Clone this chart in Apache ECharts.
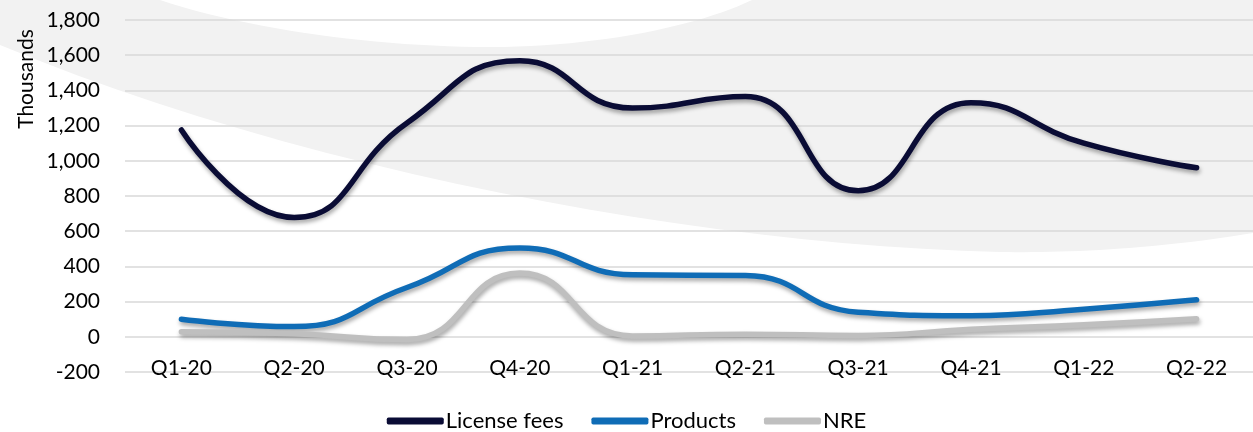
<!DOCTYPE html>
<html>
<head>
<meta charset="utf-8">
<script src="https://cdn.jsdelivr.net/npm/echarts@6/dist/echarts.min.js"></script>
<style>
  html, body { margin: 0; padding: 0; background: #fff; }
  #chart { width: 1253px; height: 432px; }
</style>
</head>
<body>
<div id="chart"></div>
<script>
// quarterly revenue by source, in thousands
const quarters = ['Q1-20', 'Q2-20', 'Q3-20', 'Q4-20', 'Q1-21', 'Q2-21', 'Q3-21', 'Q4-21', 'Q1-22', 'Q2-22']
const licenseFees = [1175, 678, 1215, 1568, 1300, 1365, 830, 1330, 1100, 960]
const products = [100, 58, 280, 505, 352, 348, 140, 120, 157, 210]
const nre = [28, 17, -15, 362, 5, 15, 8, 43, 68, 102]

const FONT = 'Lato, "Open Sans", sans-serif'

const chart = echarts.init(document.getElementById('chart'), null, { renderer: 'canvas' })

// sample cubic bezier segments into polygon points (background decoration only)
function bezierPoints(start, segs) {
  const pts = [start]
  let p0 = start
  segs.forEach(([p1, p2, p3]) => {
    for (let i = 1; i <= 24; i++) {
      const t = i / 24, u = 1 - t
      pts.push([
        u * u * u * p0[0] + 3 * u * u * t * p1[0] + 3 * u * t * t * p2[0] + t * t * t * p3[0],
        u * u * u * p0[1] + 3 * u * u * t * p1[1] + 3 * u * t * t * p2[1] + t * t * t * p3[1],
      ])
    }
    p0 = p3
  })
  return pts
}

const swooshPts = [[0, 0], [1253, 0]].concat(bezierPoints([1253, 233], [
  [[1150, 250], [1060, 253], [1000, 252]],
  [[700, 245], [300, 170], [0, 45]],
]))
const notchPts = bezierPoints([160, 0], [
  [[250, 30], [380, 47], [490, 47]],
  [[600, 47], [700, 25], [752, 0]],
])

function lineSeries(name, data, color) {
  return {
    name, type: 'line', data,
    smooth: 0.5, symbol: 'none',
    lineStyle: {
      width: 5.5, color, cap: 'round', join: 'round',
      shadowColor: 'rgba(0,0,0,0.35)', shadowBlur: 4, shadowOffsetX: 1, shadowOffsetY: 3,
    },
    itemStyle: { color },
    z: 3,
  }
}

chart.setOption({
  animation: false,
  backgroundColor: '#fff',
  graphic: [
    { type: 'polygon', z: -10, silent: true, shape: { points: swooshPts }, style: { fill: '#f2f2f2' } },
    { type: 'polygon', z: -9, silent: true, shape: { points: notchPts }, style: { fill: '#ffffff' } },
    {
      type: 'text', x: 26, y: 79, rotation: Math.PI / 2, z: 5,
      style: { text: 'Thousands', fill: '#000', font: '21px ' + FONT, align: 'center', verticalAlign: 'middle' },
    },
  ],
  grid: { left: 125, right: -14, top: 20, bottom: 60, containLabel: false },
  legend: {
    top: 410, left: 'center', padding: 0,
    itemWidth: 57, itemHeight: 7, itemGap: 28,
    icon: 'roundRect',
    textStyle: { fontFamily: FONT, fontSize: 22, color: '#000', padding: [0, 0, 0, -3] },
    data: ['License fees', 'Products', 'NRE'],
  },
  xAxis: {
    type: 'category', data: quarters, boundaryGap: true,
    axisLine: { show: false, onZero: false },
    axisTick: { show: false },
    axisLabel: { margin: -14, fontFamily: FONT, fontSize: 21, color: '#000' },
  },
  yAxis: {
    type: 'value', min: -200, max: 1800, interval: 200,
    axisLine: { show: false }, axisTick: { show: false },
    splitLine: { lineStyle: { color: '#d9d9d9', width: 1.5 } },
    axisLabel: {
      margin: 25, fontFamily: FONT, fontSize: 21, color: '#000',
      formatter: (v) => v.toLocaleString('en-US'),
    },
  },
  series: [
    lineSeries('License fees', licenseFees, '#0a0c35'),
    lineSeries('Products', products, '#0f6cb6'),
    lineSeries('NRE', nre, '#bfbfbf'),
  ],
})

window.addEventListener('resize', () => chart.resize())
</script>
</body>
</html>
